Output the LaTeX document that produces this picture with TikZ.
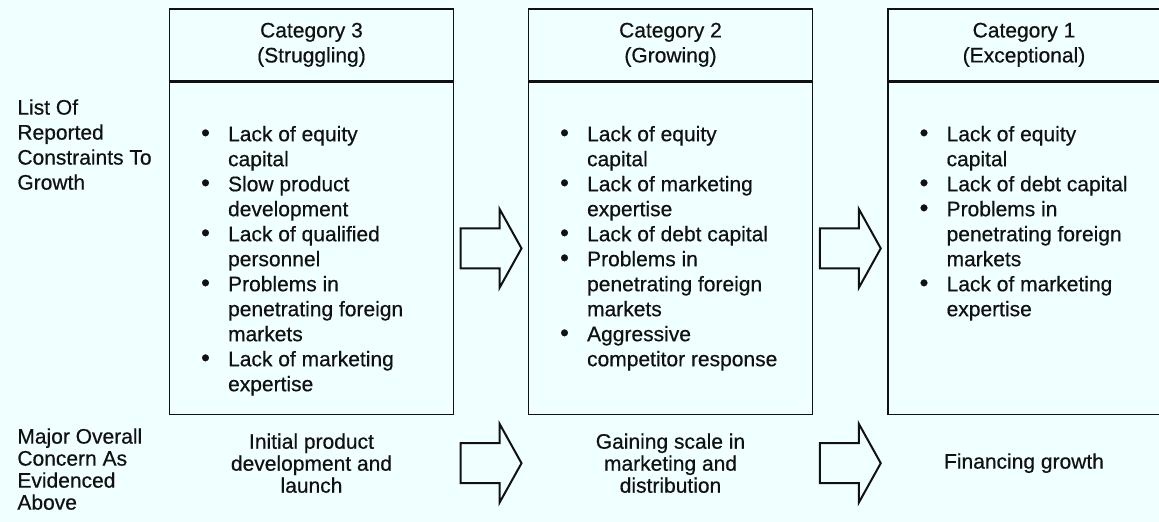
\documentclass[tikz,border=0pt]{standalone}
\usepackage{fontspec}
\setmainfont{Liberation Sans}[FakeBold=0.5]
\usepackage{xcolor}
\usepackage{tikz}
\usetikzlibrary{positioning, calc}
\definecolor{paper}{HTML}{F0FFFF}
\definecolor{ink}{HTML}{111111}

% bullet and hanging indent for the constraint lists
\newcommand{\bul}{\makebox[13.5pt][l]{\smash{\scalebox{1.2}{\textbullet}}}}
\newcommand{\cnt}{\hspace*{13.5pt}}

\tikzset{
  txt/.style={font=\fontsize{10.5}{12.5}\selectfont, text=ink, inner sep=0pt},
  tighttxt/.style={font=\fontsize{10.5}{11}\selectfont, text=ink, inner sep=0pt},
  headbox/.style={txt, draw=ink, line width=0.8pt, align=center,
                  minimum width=142pt, minimum height=36pt},
  bodybox/.style={draw=ink, line width=0.8pt,
                  minimum width=142pt, minimum height=166pt},
  itemlist/.style={txt, align=left, anchor=north west},
  sidelabel/.style={txt, align=left, anchor=north west},
  concern/.style={tighttxt, align=center},
  growarrow/.pic={
    \draw[ink, line width=1pt, line join=miter]
      (-30.5,-20) -- (8.5,-20) -- (8.5,-39.5) -- (30.5,0)
      -- (8.5,39.5) -- (8.5,20) -- (-30.5,20) -- cycle;
  }
}

\begin{document}
\begin{tikzpicture}[x=0.5pt, y=-0.5pt]
  \fill[paper] (0,0) rectangle (1159,522);
  \useasboundingbox (0,0) rectangle (1159,522);

  % category columns
  \node[headbox, anchor=north] (head3) at (311.5,8) {Category 3\\(Struggling)};
  \node[bodybox, below=0pt of head3] (body3) {};
  \node[headbox, anchor=north] (head2) at (670.5,8) {Category 2\\(Growing)};
  \node[bodybox, below=0pt of head2] (body2) {};
  \node[headbox, anchor=north, minimum width=136pt] (head1) at (1024,8) {Category 1\\(Exceptional)};
  \node[bodybox, below=0pt of head1, minimum width=136pt] (body1) {};

  % reported constraints
  \node[itemlist] (list3) at ([xshift=16pt, yshift=-22pt]body3.north west) {%
    \bul Lack of equity\\ \cnt capital\\
    \bul Slow product\\ \cnt development\\
    \bul Lack of qualified\\ \cnt personnel\\
    \bul Problems in\\ \cnt penetrating foreign\\ \cnt markets\\
    \bul Lack of marketing\\ \cnt expertise};
  \node[itemlist] (list2) at ([xshift=16pt, yshift=-22pt]body2.north west) {%
    \bul Lack of equity\\ \cnt capital\\
    \bul Lack of marketing\\ \cnt expertise\\
    \bul Lack of debt capital\\
    \bul Problems in\\ \cnt penetrating foreign\\ \cnt markets\\
    \bul Aggressive\\ \cnt competitor response};
  \node[itemlist] (list1) at ([xshift=16pt, yshift=-22pt]body1.north west) {%
    \bul Lack of equity\\ \cnt capital\\
    \bul Lack of debt capital\\
    \bul Problems in\\ \cnt penetrating foreign\\ \cnt markets\\
    \bul Lack of marketing\\ \cnt expertise};

  % row labels
  \node[sidelabel] (constraints) at (17,99) {List Of\\Reported\\Constraints To\\Growth};
  \node[sidelabel, tighttxt] (overall) at (17,428) {Major Overall\\Concern As\\Evidenced\\Above};

  % major concern per category
  \node[concern, below=24pt of body3, anchor=center] (need3) {Initial product\\development and\\launch};
  \node[concern, below=24pt of body2, anchor=center] (need2) {Gaining scale in\\marketing and\\distribution};
  \node[concern, below=24pt of body1, anchor=center] (need1) {Financing growth};

  % progression arrows
  \coordinate (gap32) at ($(body3.east)!0.5!(body2.west)$);
  \coordinate (gap21) at ($(body2.east)!0.5!(body1.west)$);
  \pic at (gap32) {growarrow};
  \pic at (gap21) {growarrow};
  \pic at (gap32 |- need3) {growarrow};
  \pic at (gap21 |- need2) {growarrow};
\end{tikzpicture}
\end{document}
